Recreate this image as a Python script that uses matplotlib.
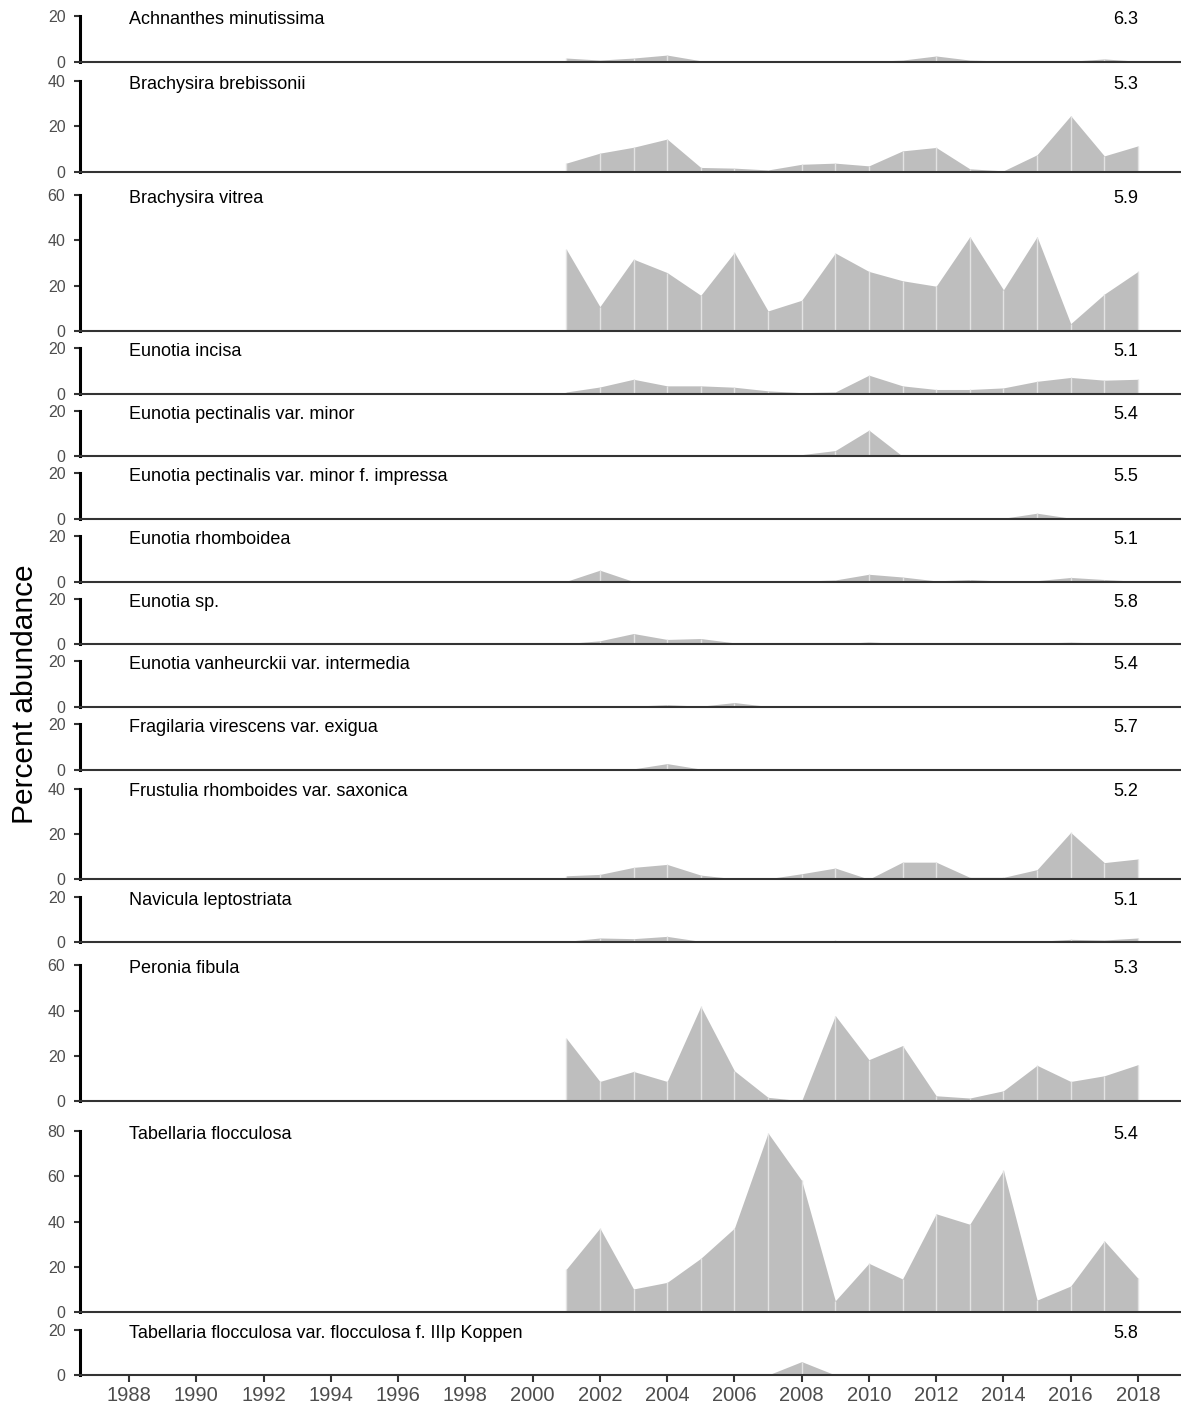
import numpy as np
import matplotlib.pyplot as plt

plt.rcParams['font.family'] = ['Liberation Sans', 'DejaVu Sans']

years = np.arange(2001, 2019)

species = [
    "Achnanthes minutissima",
    "Brachysira brebissonii",
    "Brachysira vitrea",
    "Eunotia incisa",
    "Eunotia pectinalis var. minor",
    "Eunotia pectinalis var. minor f. impressa",
    "Eunotia rhomboidea",
    "Eunotia sp.",
    "Eunotia vanheurckii var. intermedia",
    "Fragilaria virescens var. exigua",
    "Frustulia rhomboides var. saxonica",
    "Navicula leptostriata",
    "Peronia fibula",
    "Tabellaria flocculosa",
    "Tabellaria flocculosa var. flocculosa f. IIIp Koppen",
]
optima = ["6.3", "5.3", "5.9", "5.1", "5.4", "5.5", "5.1", "5.8",
          "5.4", "5.7", "5.2", "5.1", "5.3", "5.4", "5.8"]
ymax = [20, 40, 60, 20, 20, 20, 20, 20, 20, 20, 40, 20, 60, 80, 20]

achnanthes = [1.6, 0.7, 1.6, 2.9, 0.4, 0.3, 0.1, 0.4, 0.2, 0.1, 0.7, 2.5, 0.7, 0.3, 0.1, 0.2, 1.2, 0.2]
b_brebissonii = [3.7, 8.1, 10.7, 14.3, 1.8, 1.5, 0.7, 3.2, 3.7, 2.5, 9.1, 10.6, 1.2, 0.3, 7.4, 24.6, 6.9, 11.3]
b_vitrea = [36.0, 10.7, 31.6, 25.7, 15.7, 34.6, 8.8, 13.5, 34.3, 26.2, 22.1, 19.7, 41.5, 18.1, 41.5, 3.2, 16.2, 26.2]
e_incisa = [0.7, 2.9, 6.3, 3.4, 3.4, 2.8, 1.2, 0.4, 0.7, 8.1, 3.4, 1.8, 1.8, 2.5, 5.4, 7.1, 5.9, 6.3]
e_pect_minor = [0.2, 0.2, 0.2, 0.2, 0.2, 0.2, 0.2, 0.7, 2.5, 11.5, 0.0, 0.1, 0.1, 0.1, 0.3, 0.1, 0.1, 0.1]
e_pect_impressa = [0.1, 0.1, 0.1, 0.1, 0.1, 0.1, 0.1, 0.1, 0.1, 0.1, 0.1, 0.1, 0.1, 0.3, 2.5, 0.3, 0.1, 0.1]
e_rhomboidea = [0.1, 5.0, 0.0, 0.0, 0.0, 0.0, 0.0, 0.2, 0.7, 3.2, 2.0, 0.3, 0.9, 0.2, 0.4, 1.8, 0.9, 0.1]
e_sp = [0.3, 1.5, 4.7, 2.1, 2.5, 0.6, 0.1, 0.1, 0.1, 1.0, 0.3, 0.1, 0.1, 0.1, 0.5, 0.9, 0.5, 0.1]
e_vanheurckii = [0.0, 0.0, 0.3, 1.0, 0.3, 1.9, 0.2, 0.1, 0.2, 0.0, 0.0, 0.0, 0.4, 0.1, 0.1, 0.1, 0.1, 0.1]
f_virescens = [0.0, 0.0, 0.3, 2.6, 0.2, 0.0, 0.0, 0.0, 0.0, 0.0, 0.0, 0.0, 0.0, 0.0, 0.0, 0.0, 0.0, 0.0]
f_rhomboides = [1.6, 2.2, 5.3, 6.6, 1.9, 0.3, 0.3, 2.5, 5.0, 0.1, 7.6, 7.6, 0.9, 0.9, 4.3, 20.7, 7.4, 9.0]
n_leptostriata = [0.3, 1.8, 1.5, 2.5, 0.3, 0.2, 0.2, 0.5, 0.7, 0.3, 0.1, 0.1, 0.1, 0.1, 0.3, 1.2, 0.9, 1.8]
p_fibula = [27.9, 8.8, 13.2, 8.8, 41.9, 13.5, 1.8, 0.3, 37.8, 18.4, 24.6, 2.5, 1.5, 4.7, 15.9, 8.8, 11.3, 16.2]
t_flocculosa = [19.0, 37.1, 10.3, 13.2, 23.8, 37.1, 79.0, 58.1, 5.1, 21.6, 14.7, 43.4, 38.8, 62.6, 5.4, 11.6, 31.5, 15.0]
t_koppen = [0.0, 0.0, 0.0, 0.0, 0.0, 0.0, 0.0, 5.9, 0.0, 0.0, 0.0, 0.0, 0.0, 0.0, 0.0, 0.0, 0.0, 0.0]

values = [achnanthes, b_brebissonii, b_vitrea, e_incisa, e_pect_minor, e_pect_impressa,
          e_rhomboidea, e_sp, e_vanheurckii, f_virescens, f_rhomboides, n_leptostriata,
          p_fibula, t_flocculosa, t_koppen]

# headroom above each panel, by panel range
headroom = {20: 7.6, 40: 8.4, 60: 10.2, 80: 12.9}
tops = [m + headroom[m] for m in ymax]

fig = plt.figure(figsize=(11.81, 14.09), dpi=100)
gs = fig.add_gridspec(len(species), 1, height_ratios=tops,
                      hspace=0, left=80/1181, right=1.0, top=1.0 + 1/1409, bottom=34/1409)

for i, (name, opt, m, v) in enumerate(zip(species, optima, ymax, values)):
    ax = fig.add_subplot(gs[i])
    v = np.array(v)
    ax.fill_between(years, 0, v, color='#bebebe', lw=0)
    ax.vlines(years, 0, v, colors='#e3e3e3', lw=1)
    ax.set_xlim(1986.54, 2019.28)
    ax.set_ylim(0, tops[i])
    ax.set_yticks(np.arange(0, m + 1, 20))
    ax.spines['top'].set_visible(False)
    ax.spines['right'].set_visible(False)
    ax.spines['left'].set_bounds(0, m)
    ax.spines['left'].set_linewidth(2.2)
    ax.spines['left'].set_color('black')
    ax.spines['bottom'].set_linewidth(1.5)
    ax.spines['bottom'].set_color('#333333')
    ax.tick_params(axis='y', length=4.5, width=1.5, color='#333333',
                   labelsize=11.5, labelcolor='#4d4d4d', pad=6)
    ax.patch.set_alpha(0)
    ax.text(1988, m - 1.5, name, ha='left', va='center', fontsize=13, color='black')
    ax.text(2018, m - 1.5, opt, ha='right', va='center', fontsize=13, color='black')
    if i < len(species) - 1:
        ax.set_xticks([])
    else:
        ax.set_xticks(np.arange(1988, 2019, 2))
        ax.tick_params(axis='x', length=5, width=1.5, color='#333333',
                       labelsize=14.5, labelcolor='#4d4d4d', pad=3)

fig.text(0.021, 0.507, 'Percent abundance', rotation=90, ha='center', va='center',
         fontsize=21.5, color='black')

fig.savefig('out.png', dpi=100)
